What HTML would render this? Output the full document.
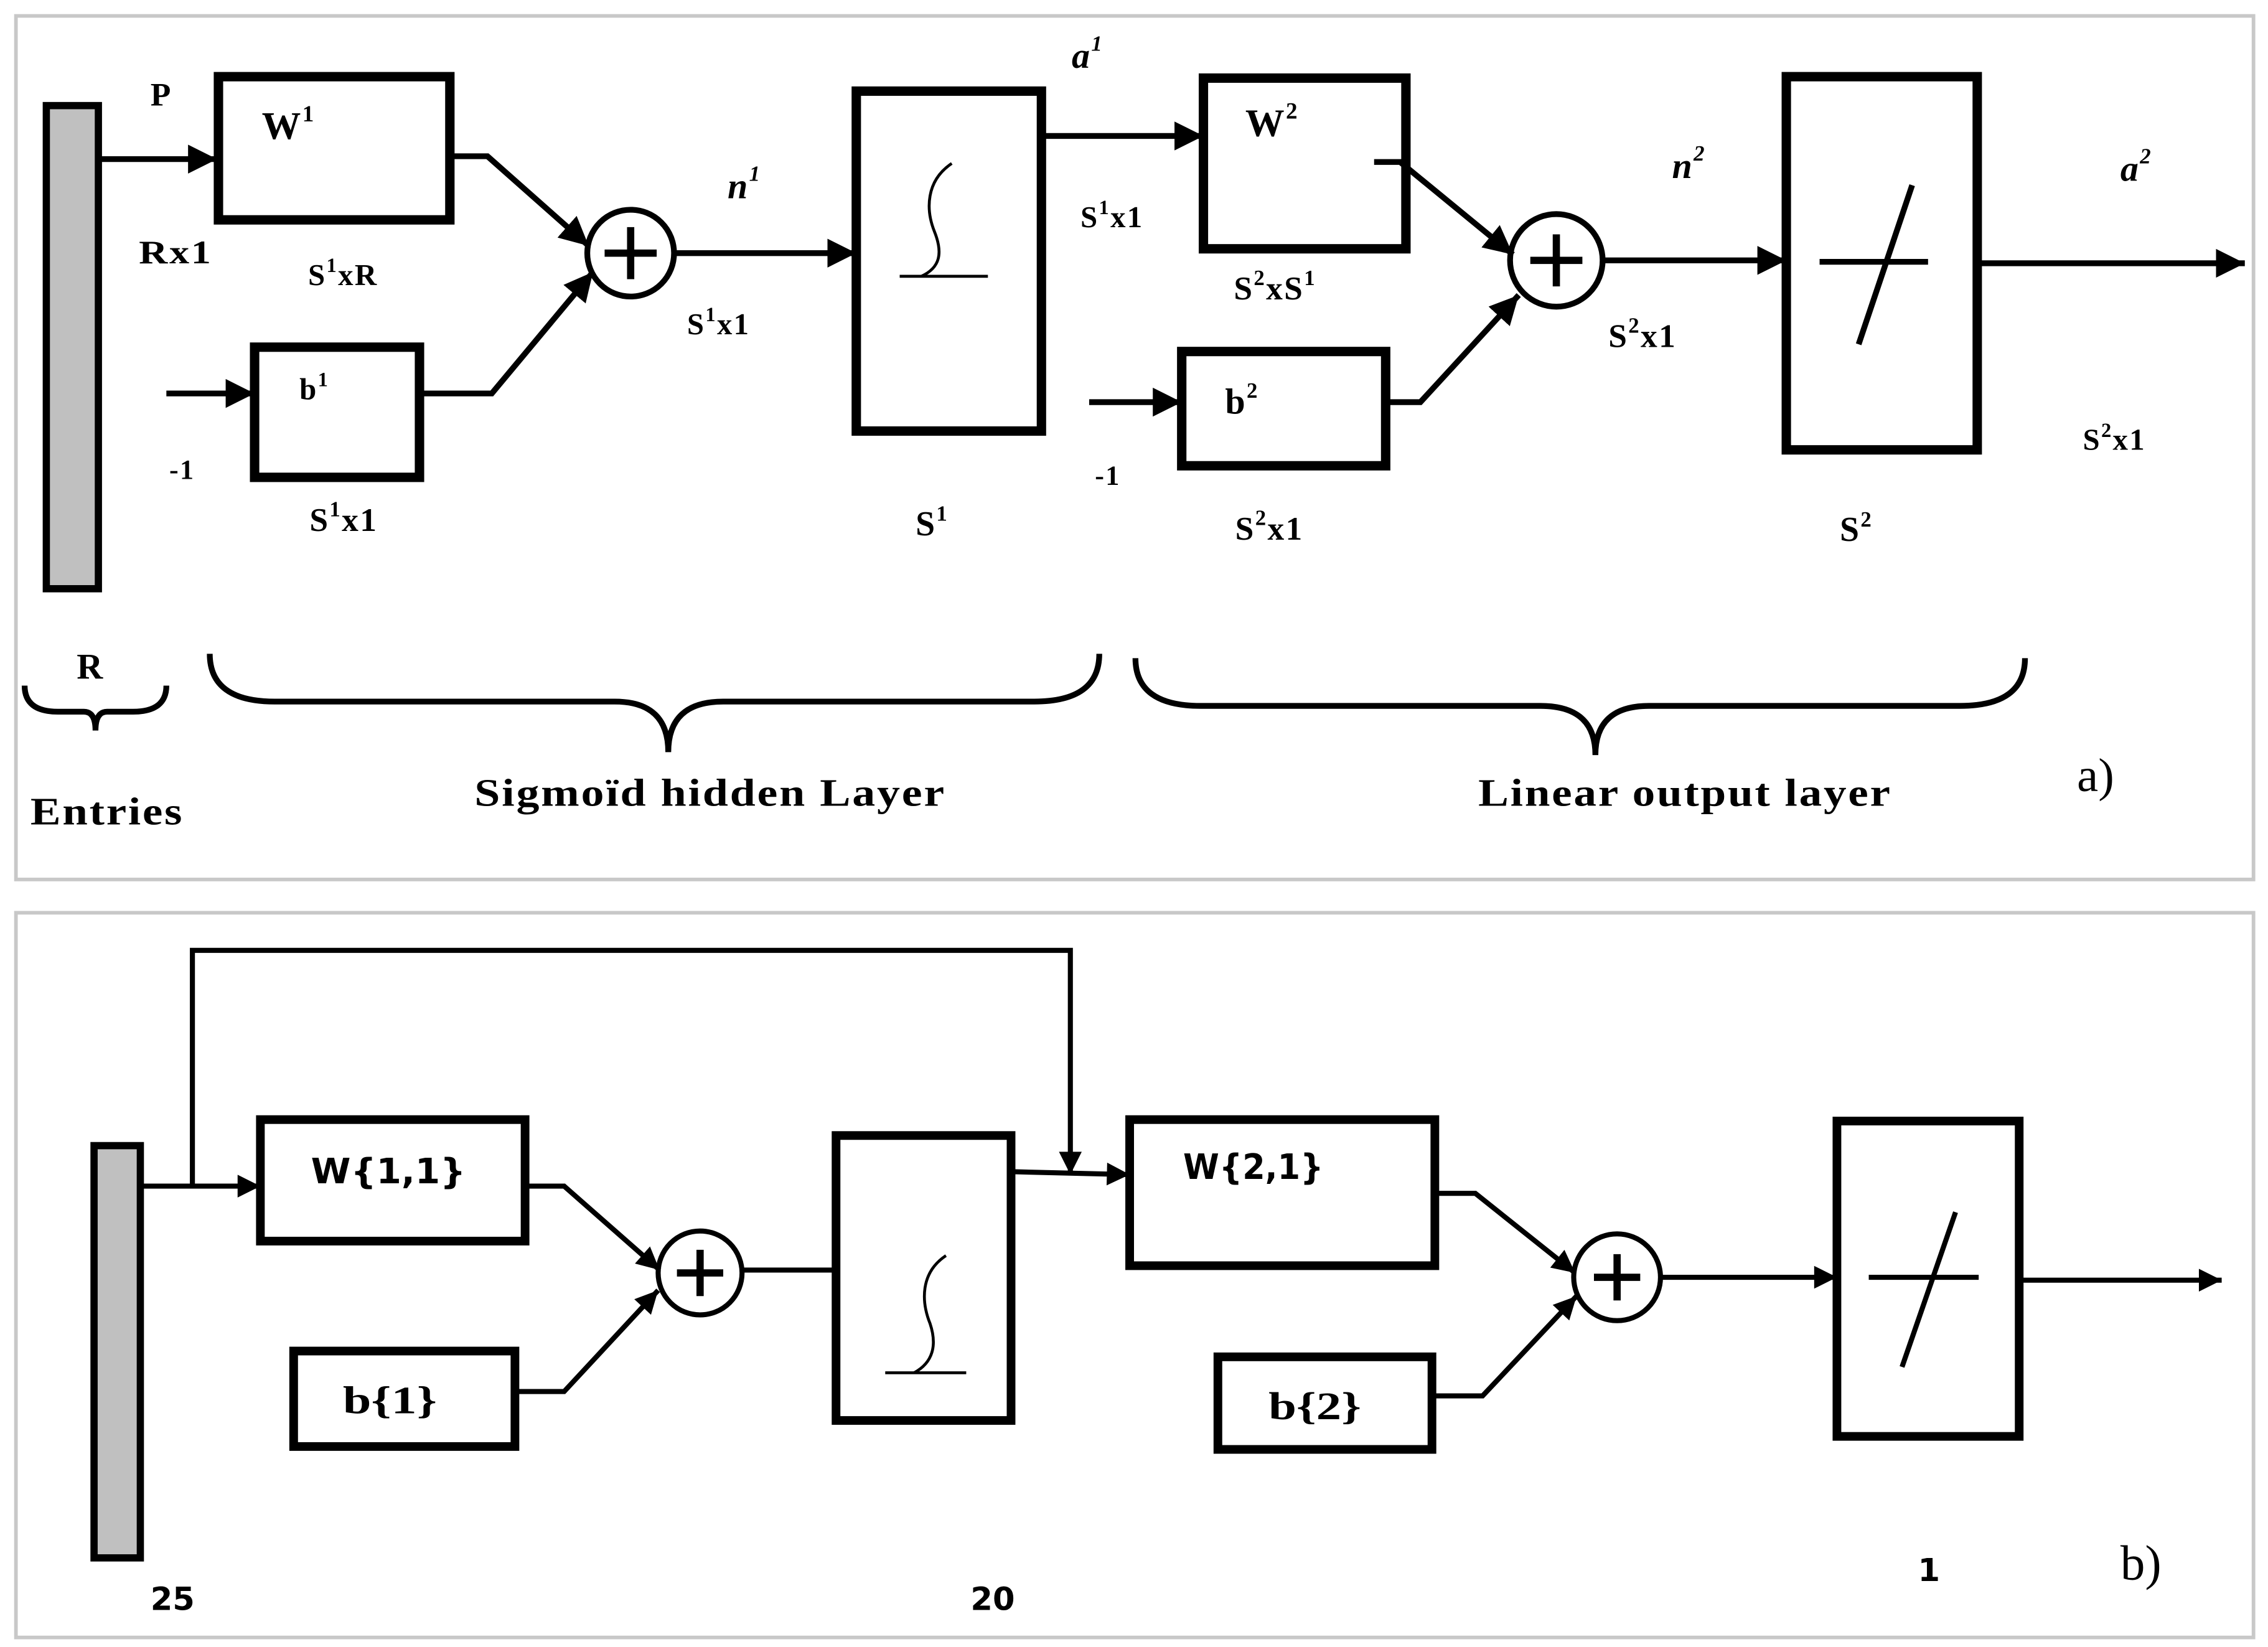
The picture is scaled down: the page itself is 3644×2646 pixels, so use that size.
<!DOCTYPE html>
<html><head><style>html,body{margin:0;padding:0;background:#fff}svg{display:block}</style></head>
<body>
<svg xmlns="http://www.w3.org/2000/svg" width="3644" height="2646" viewBox="0 0 1568 1138.6">
<defs>
<marker id="ar" viewBox="0 0 10 10" refX="10" refY="5" markerWidth="5" markerHeight="5" markerUnits="strokeWidth" orient="auto"><path d="M0,0 L10,5 L0,10 z" fill="#000"/></marker>
<marker id="ar2" viewBox="0 0 10 10" refX="10" refY="5" markerWidth="5" markerHeight="4.5" markerUnits="strokeWidth" orient="auto"><path d="M0,0 L10,5 L0,10 z" fill="#000"/></marker>
</defs>
<rect width="1568" height="1138.6" fill="#fff"/>
<g fill="none" stroke="#c8c8c8" stroke-width="2.5">
<rect x="11" y="11" width="1547" height="597"/>
<rect x="11" y="631" width="1547" height="501"/>
</g>
<!-- panel a -->
<g stroke="#000" fill="none">
<rect x="32" y="73" width="36" height="334" fill="#c0c0c0" stroke-width="5"/>
<g stroke-width="6.5">
<rect x="151" y="53" width="160" height="99"/>
<rect x="176" y="240" width="114" height="90"/>
<rect x="592" y="63" width="128" height="235"/>
<rect x="832" y="54" width="140" height="118"/>
<rect x="817" y="243" width="141" height="79"/>
<rect x="1235" y="53" width="132" height="258"/>
</g>
<g stroke-width="4">
<circle cx="436" cy="175" r="30"/>
<circle cx="1076" cy="180" r="32"/>
<line x1="68" y1="110" x2="150" y2="110" marker-end="url(#ar)"/>
<polyline points="311,108 337,108 407,170" marker-end="url(#ar)"/>
<line x1="115" y1="272" x2="176" y2="272" marker-end="url(#ar)"/>
<polyline points="290,272 340,272 410,188" marker-end="url(#ar)"/>
<line x1="466" y1="175" x2="592" y2="175" marker-end="url(#ar)"/>
<line x1="720" y1="94" x2="832" y2="94" marker-end="url(#ar)"/>
<polyline points="950,112 968,112 1046,176" marker-end="url(#ar)"/>
<line x1="753" y1="278" x2="817" y2="278" marker-end="url(#ar)"/>
<polyline points="958,278 982,278 1050,204" marker-end="url(#ar)"/>
<line x1="1108" y1="180" x2="1235" y2="180" marker-end="url(#ar)"/>
<line x1="1367" y1="182" x2="1552" y2="182" marker-end="url(#ar)"/>
<line x1="1258" y1="181" x2="1333" y2="181"/>
<line x1="1285" y1="238" x2="1322" y2="128"/>
</g>
<g stroke-width="5">
<line x1="436" y1="157" x2="436" y2="193"/><line x1="418" y1="175" x2="454" y2="175"/>
<line x1="1076" y1="162" x2="1076" y2="198"/><line x1="1058" y1="180" x2="1094" y2="180"/>
</g>
<g stroke-width="2">
<path d="M658,113 C640,125 640,145 646,160 C652,175 650,185 637,191"/>
<line x1="622" y1="191" x2="683" y2="191"/>
</g>
<g stroke-width="4">
<path d="M17,474 Q17,492 40,492 L58,492 Q66,492 66,505 Q66,492 74,492 L92,492 Q115,492 115,474"/>
<path d="M145,452 Q145,485 190,485 L425,485 Q462,485 462,520 Q462,485 500,485 L715,485 Q760,485 760,452"/>
<path d="M785,455 Q785,488 830,488 L1065,488 Q1103,488 1103,522 Q1103,488 1140,488 L1355,488 Q1400,488 1400,455"/>
</g>
</g>
<g font-family="'Liberation Serif',serif" font-weight="bold" font-size="23" fill="#000" letter-spacing="1">
<text x="104" y="73">P</text>
<text x="181" y="96" font-size="27">W<tspan font-size="16" dy="-12">1</tspan></text>
<text x="96" y="182" textLength="51" lengthAdjust="spacingAndGlyphs">Rx1</text>
<text x="213" y="197" font-size="21">S<tspan font-size="14" dy="-9">1</tspan><tspan dy="9">xR</tspan></text>
<text x="207" y="276" font-size="21">b<tspan font-size="14" dy="-9">1</tspan></text>
<text x="117" y="331" font-size="19">-1</text>
<text x="214" y="367">S<tspan font-size="15" dy="-10">1</tspan><tspan dy="10">x1</tspan></text>
<text x="503" y="137" font-style="italic" font-size="25">n<tspan font-size="15" dy="-12">1</tspan></text>
<text x="475" y="231" font-size="21">S<tspan font-size="14" dy="-9">1</tspan><tspan dy="9">x1</tspan></text>
<text x="633" y="370" font-size="24">S<tspan font-size="15" dy="-10">1</tspan></text>
<text x="741" y="47" font-style="italic" font-size="25">a<tspan font-size="15" dy="-12">1</tspan></text>
<text x="747" y="157" font-size="21">S<tspan font-size="14" dy="-9">1</tspan><tspan dy="9">x1</tspan></text>
<text x="861" y="94" font-size="27">W<tspan font-size="16" dy="-12">2</tspan></text>
<text x="853" y="207">S<tspan font-size="15" dy="-10">2</tspan><tspan dy="10">xS</tspan><tspan font-size="15" dy="-10">1</tspan></text>
<text x="847" y="286" font-size="25">b<tspan font-size="15" dy="-11">2</tspan></text>
<text x="757" y="335" font-size="19">-1</text>
<text x="854" y="373">S<tspan font-size="15" dy="-10">2</tspan><tspan dy="10">x1</tspan></text>
<text x="1156" y="123" font-style="italic" font-size="25">n<tspan font-size="15" dy="-12">2</tspan></text>
<text x="1112" y="240">S<tspan font-size="15" dy="-10">2</tspan><tspan dy="10">x1</tspan></text>
<text x="1272" y="374" font-size="24">S<tspan font-size="15" dy="-10">2</tspan></text>
<text x="1466" y="125" font-style="italic" font-size="25">a<tspan font-size="15" dy="-12">2</tspan></text>
<text x="1440" y="311" font-size="21">S<tspan font-size="14" dy="-9">2</tspan><tspan dy="9">x1</tspan></text>
<text x="53" y="469" font-size="25">R</text>
<text x="21" y="570" font-size="27" textLength="106" lengthAdjust="spacingAndGlyphs">Entries</text>
<text x="328" y="557" font-size="27" textLength="326" lengthAdjust="spacingAndGlyphs">Sigmoïd hidden Layer</text>
<text x="1022" y="557" font-size="27" textLength="286" lengthAdjust="spacingAndGlyphs">Linear output layer</text>
<text x="1436" y="547" font-size="33" font-weight="normal" letter-spacing="0">a)</text>
<text x="1466" y="1092" font-size="34" font-weight="normal" letter-spacing="0">b)</text>
</g>
<!-- panel b -->
<g stroke="#000" fill="none">
<rect x="65" y="792" width="32" height="285" fill="#c0c0c0" stroke-width="5"/>
<g stroke-width="6">
<rect x="180" y="774" width="183" height="84"/>
<rect x="203" y="934" width="153" height="66"/>
<rect x="578" y="785" width="121" height="197"/>
<rect x="781" y="774" width="211" height="101"/>
<rect x="842" y="938" width="148" height="64"/>
<rect x="1270" y="775" width="126" height="218"/>
</g>
<g stroke-width="3.5">
<polyline points="133,820 133,657 740,657 740,812" marker-end="url(#ar2)"/>
<line x1="97" y1="820" x2="180" y2="820" marker-end="url(#ar2)"/>
<polyline points="363,820 390,820 456,878" marker-end="url(#ar2)"/>
<polyline points="356,962 390,962 455,892" marker-end="url(#ar2)"/>
<line x1="514" y1="878" x2="578" y2="878"/>
<line x1="699" y1="810" x2="781" y2="812" marker-end="url(#ar2)"/>
<polyline points="992,825 1020,825 1089,880" marker-end="url(#ar2)"/>
<polyline points="990,965 1025,965 1090,896" marker-end="url(#ar2)"/>
<line x1="1149" y1="883" x2="1270" y2="883" marker-end="url(#ar2)"/>
<line x1="1396" y1="885" x2="1536" y2="885" marker-end="url(#ar2)"/>
<circle cx="484" cy="880" r="29"/>
<circle cx="1118" cy="883" r="30"/>
<line x1="1292" y1="883" x2="1368" y2="883"/>
<line x1="1315" y1="945" x2="1352" y2="838"/>
</g>
<g stroke-width="5">
<line x1="484" y1="864" x2="484" y2="896"/><line x1="468" y1="880" x2="500" y2="880"/>
<line x1="1118" y1="867" x2="1118" y2="899"/><line x1="1102" y1="883" x2="1134" y2="883"/>
</g>
<g stroke-width="2">
<path d="M654,868 C636,880 637,900 643,915 C648,930 645,942 632,949"/>
<line x1="612" y1="949" x2="668" y2="949"/>
</g>
</g>
<g font-family="'DejaVu Sans',sans-serif" font-weight="bold" fill="#000">
<text x="215" y="818" font-size="24" textLength="107" lengthAdjust="spacingAndGlyphs">W{1,1}</text>
<text x="818" y="815" font-size="24" textLength="97" lengthAdjust="spacingAndGlyphs">W{2,1}</text>
<text x="237" y="977" font-size="27" font-family="'Liberation Serif',serif" textLength="65" lengthAdjust="spacingAndGlyphs">b{1}</text>
<text x="877" y="981" font-size="27" font-family="'Liberation Serif',serif" textLength="64" lengthAdjust="spacingAndGlyphs">b{2}</text>
<text x="104" y="1113" font-size="22">25</text>
<text x="671" y="1113" font-size="22">20</text>
<text x="1326" y="1093" font-size="22">1</text>
</g>
</svg>
</body></html>
